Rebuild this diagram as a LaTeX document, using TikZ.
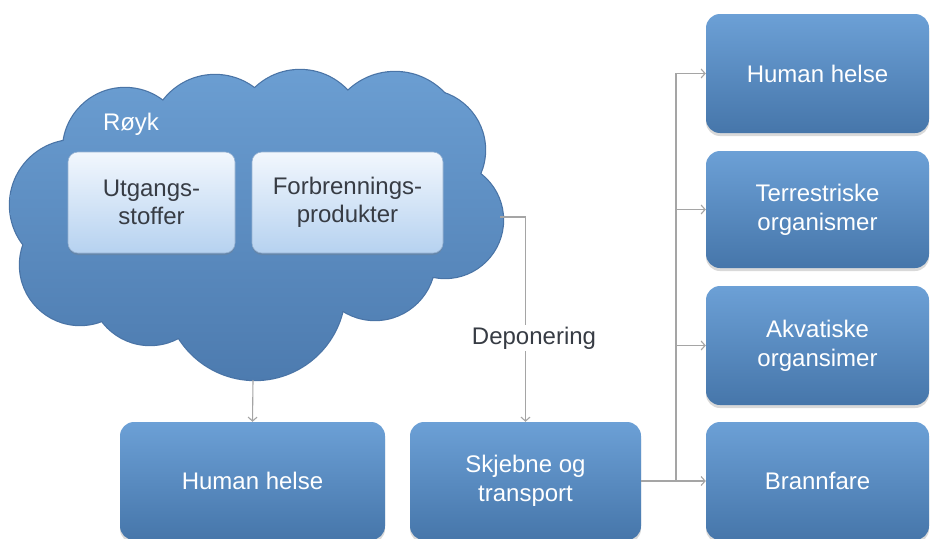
\documentclass[tikz,border=0pt]{standalone}
\usepackage{fontspec}
\setmainfont{Liberation Sans}
\usetikzlibrary{arrows.meta,shadows}

\definecolor{boxtop}{RGB}{108,160,214}
\definecolor{boxbot}{RGB}{70,118,170}
\definecolor{cloudtop}{RGB}{108,159,211}
\definecolor{cloudbot}{RGB}{76,122,174}
\definecolor{cloudedge}{RGB}{74,116,166}
\definecolor{innertop}{RGB}{242,247,253}
\definecolor{innerbot}{RGB}{182,210,240}
\definecolor{innerline}{RGB}{150,178,210}
\definecolor{innertext}{RGB}{55,60,68}
\definecolor{linegray}{RGB}{165,165,165}

\begin{document}
\begin{tikzpicture}[x=1pt,y=-1pt,
  bluebox/.style={rounded corners=14pt, top color=boxtop, bottom color=boxbot,
    draw=none, text=white, align=center, inner sep=0pt,
    font=\fontsize{24}{29}\selectfont,
    drop shadow={opacity=0.3, shadow xshift=0pt, shadow yshift=-3pt}},
  innerbox/.style={rounded corners=10pt, top color=innertop, bottom color=innerbot,
    draw=innerline, line width=0.6pt, text=innertext, align=center, inner sep=0pt,
    minimum height=101pt, font=\fontsize{24}{28}\selectfont,
    drop shadow={opacity=0.3, shadow xshift=0pt, shadow yshift=-2pt}},
  conn/.style={draw=linegray, line width=1.1pt,
    -{Straight Barb[length=4pt,width=9pt]}},
  lbl/.style={fill=white, inner sep=2pt, text=innertext,
    font=\fontsize{24}{28}\selectfont}
]
\useasboundingbox (0,0) rectangle (931,538);

% smoke cloud: union of circles with a darker rim
\def\cloudlist{125/150/62, 215/140/65, 300/135/65, 395/140/68, 425/150/60,
  445/220/58, 75/205/65, 80/265/60, 150/285/60, 255/290/90, 375/260/60,
  270/200/110}
\foreach \cx/\cy/\r in \cloudlist
  \draw[cloudedge, line width=2.4pt] (\cx,\cy) circle[radius=\r];
\begin{scope}
  \clip \foreach \cx/\cy/\r in \cloudlist {(\cx,\cy) circle[radius=\r]};
  \shade[top color=cloudtop, bottom color=cloudbot] (0,60) rectangle (520,390);
\end{scope}

\node[text=white, font=\fontsize{24}{28}\selectfont] (royk) at (131,124) {Røyk};
\node[innerbox, minimum width=167pt] (utg) at (151.5,202.5) {Utgangs-\\stoffer};
\node[innerbox, minimum width=191pt] (forb) at (347.5,202.5) {Forbrennings-\\produkter};

\coordinate (cloudbottom) at (253,380);
\coordinate (cloudright) at (500,217);

% lower boxes
\node[bluebox, minimum width=265pt, minimum height=118pt] (hh) at (252.5,481) {Human helse};
\node[bluebox, minimum width=231pt, minimum height=118pt] (sk) at (525.5,481) {Skjebne og\\transport};

% effect boxes on the right
\node[bluebox, minimum width=223pt, minimum height=119pt] (r1) at (817.5,73.5) {Human helse};
\node[bluebox, minimum width=223pt, minimum height=117pt] (r2) at (817.5,209.5) {Terrestriske\\organismer};
\node[bluebox, minimum width=223pt, minimum height=119pt] (r3) at (817.5,345.5) {Akvatiske\\organsimer};
\node[bluebox, minimum width=223pt, minimum height=118pt] (r4) at (817.5,481) {Brannfare};

% connectors
\draw[conn] (cloudbottom) -- (hh.north);
\draw[conn] (cloudright) -| (sk.north);
\node[lbl] (dep) at (534,338) {Deponering};

\coordinate (split) at (676,481);
\draw[conn] (sk.east) -- (split) |- (r1.west);
\draw[conn] (sk.east) -- (split) |- (r2.west);
\draw[conn] (sk.east) -- (split) |- (r3.west);
\draw[conn] (sk.east) -- (r4.west);
\end{tikzpicture}
\end{document}
